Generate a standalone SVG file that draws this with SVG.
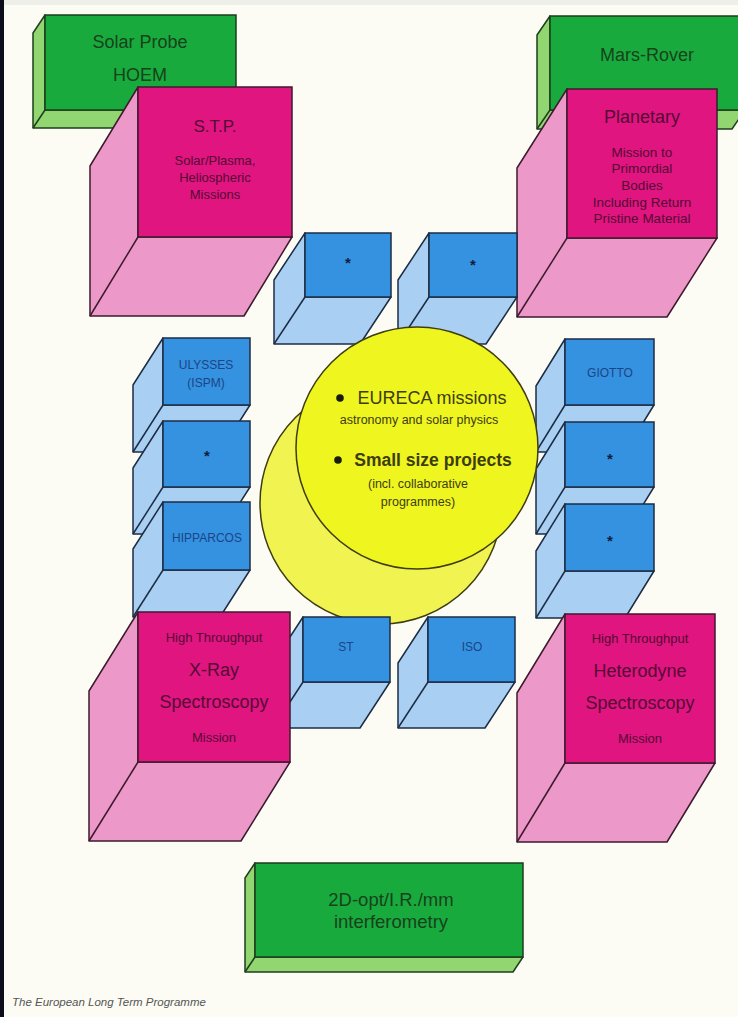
<svg xmlns="http://www.w3.org/2000/svg" width="738" height="1017" viewBox="0 0 738 1017">
<style>
.gs{fill:#92d672;stroke:#1d3d1d;stroke-width:1.5;stroke-linejoin:round}
.gf{fill:#19aa3e;stroke:#1d3d1d;stroke-width:1.5}
.ms{fill:#ec98c8;stroke:#3c1a2c;stroke-width:1.5;stroke-linejoin:round}
.mf{fill:#e0157f;stroke:#3c1a2c;stroke-width:1.5}
.bs{fill:#a9cff2;stroke:#1c2c44;stroke-width:1.5;stroke-linejoin:round}
.bf{fill:#3592e0;stroke:#1c2c44;stroke-width:1.5}
.ln{fill:none}
.t{font-family:"Liberation Sans",Arial,sans-serif;text-anchor:middle}
.gt{fill:#17421b}
.mt{fill:#550a36}
.bt{fill:#1b4586}
.st{fill:#0f1e3c;font-weight:bold}
.yt{fill:#3d3d10}
</style>
<rect x="0" y="0" width="738" height="1017" fill="#fcfcf4"/>
<rect x="0" y="0" width="738" height="5" fill="#efefea"/>
<rect x="0" y="0" width="4" height="1017" fill="#0c0c1a"/>
<g id="connectors"/>
<g id="solar-probe">
<path class="gs" d="M45,15 L33,33 L33,128 L224,128 L236,110 L45,110 Z"/>
<path class="gs ln" d="M45,110 L33,128"/>
<rect class="gf" x="45" y="15" width="191" height="95"/>
<text class="t gt" x="140" y="48" font-size="18">Solar Probe</text>
<text class="t gt" x="140" y="81" font-size="18">HOEM</text>
</g>
<g id="mars-rover">
<path class="gs" d="M550,16 L537,35 L537,129 L732,129 L745,110 L550,110 Z"/>
<path class="gs ln" d="M550,110 L537,129"/>
<rect class="gf" x="550" y="16" width="195" height="94"/>
<text class="t gt" x="647" y="61" font-size="18">Mars-Rover</text>
</g>
<g id="stp">
<path class="ms" d="M138,87 L90,166 L90,316 L244,316 L292,237 L138,237 Z"/>
<path class="ms ln" d="M138,237 L90,316"/>
<rect class="mf" x="138" y="87" width="154" height="150"/>
<text class="t mt" x="215" y="132" font-size="17">S.T.P.</text>
<text class="t mt" x="215" y="164.5" font-size="13">Solar/Plasma,</text>
<text class="t mt" x="215" y="181.5" font-size="13">Heliospheric</text>
<text class="t mt" x="215" y="198.5" font-size="13">Missions</text>
</g>
<g id="planetary">
<path class="ms" d="M567,89 L517,168 L517,317 L667,317 L717,238 L567,238 Z"/>
<path class="ms ln" d="M567,238 L517,317"/>
<rect class="mf" x="567" y="89" width="150" height="149"/>
<text class="t mt" x="642" y="123" font-size="18">Planetary</text>
<text class="t mt" x="642" y="157" font-size="13.5">Mission to</text>
<text class="t mt" x="642" y="173" font-size="13.5">Primordial</text>
<text class="t mt" x="642" y="190" font-size="13.5">Bodies</text>
<text class="t mt" x="642" y="207" font-size="13.5">Including Return</text>
<text class="t mt" x="642" y="223" font-size="13.5">Pristine Material</text>
</g>
<g id="top-box-1">
<path class="bs" d="M305,233 L274,280 L274,344 L360,344 L391,297 L305,297 Z"/>
<path class="bs ln" d="M305,297 L274,344"/>
<rect class="bf" x="305" y="233" width="86" height="64"/>
<text class="t st" x="348" y="268" font-size="15">*</text>
</g>
<g id="top-box-2">
<path class="bs" d="M429,233 L398,280 L398,344 L486,344 L517,297 L429,297 Z"/>
<path class="bs ln" d="M429,297 L398,344"/>
<rect class="bf" x="429" y="233" width="88" height="64"/>
<text class="t st" x="473" y="270" font-size="15">*</text>
</g>
<g id="ulysses">
<path class="bs" d="M163,338 L133,385 L133,452 L220,452 L250,405 L163,405 Z"/>
<path class="bs ln" d="M163,405 L133,452"/>
<rect class="bf" x="163" y="338" width="87" height="67"/>
<text class="t bt" x="206" y="369" font-size="12">ULYSSES</text>
<text class="t bt" x="206" y="387" font-size="12">(ISPM)</text>
</g>
<g id="left-box-2">
<path class="bs" d="M163,421 L133,468 L133,534 L220,534 L250,487 L163,487 Z"/>
<path class="bs ln" d="M163,487 L133,534"/>
<rect class="bf" x="163" y="421" width="87" height="66"/>
<text class="t st" x="207" y="461" font-size="15">*</text>
</g>
<g id="hipparcos">
<path class="bs" d="M163,502 L133,549 L133,617 L220,617 L250,570 L163,570 Z"/>
<path class="bs ln" d="M163,570 L133,617"/>
<rect class="bf" x="163" y="502" width="87" height="68"/>
<text class="t bt" x="207" y="542" font-size="12">HIPPARCOS</text>
</g>
<g id="giotto">
<path class="bs" d="M565,339 L536,386 L536,452 L625,452 L654,405 L565,405 Z"/>
<path class="bs ln" d="M565,405 L536,452"/>
<rect class="bf" x="565" y="339" width="89" height="66"/>
<text class="t bt" x="610" y="377" font-size="12">GIOTTO</text>
</g>
<g id="right-box-2">
<path class="bs" d="M565,422 L536,469 L536,534 L625,534 L654,487 L565,487 Z"/>
<path class="bs ln" d="M565,487 L536,534"/>
<rect class="bf" x="565" y="422" width="89" height="65"/>
<text class="t st" x="610" y="464" font-size="15">*</text>
</g>
<g id="right-box-3">
<path class="bs" d="M565,504 L536,551 L536,618 L625,618 L654,571 L565,571 Z"/>
<path class="bs ln" d="M565,571 L536,618"/>
<rect class="bf" x="565" y="504" width="89" height="67"/>
<text class="t st" x="610" y="546" font-size="15">*</text>
</g>
<g id="eureca">
<circle cx="381" cy="503" r="121" fill="#f0f350" stroke="#3d3d10" stroke-width="1.5"/>
<circle cx="417" cy="448" r="121" fill="#eef51f" stroke="#3d3d10" stroke-width="1.5"/>
<circle cx="340" cy="398" r="3.8" fill="#1a1a08"/>
<text class="t yt" x="432" y="404" font-size="18">EURECA missions</text>
<text class="t yt" x="419" y="424" font-size="12.5">astronomy and solar physics</text>
<circle cx="338" cy="460" r="3.8" fill="#1a1a08"/>
<text class="t yt" x="433" y="466" font-size="17.5" font-weight="bold">Small size projects</text>
<text class="t yt" x="418" y="488" font-size="12.5">(incl. collaborative</text>
<text class="t yt" x="418" y="506" font-size="12.5">programmes)</text>
</g>
<g id="st">
<path class="bs" d="M303,617 L273,663 L273,728 L360,728 L390,682 L303,682 Z"/>
<path class="bs ln" d="M303,682 L273,728"/>
<rect class="bf" x="303" y="617" width="87" height="65"/>
<text class="t bt" x="346" y="651" font-size="12">ST</text>
</g>
<g id="iso">
<path class="bs" d="M428,617 L398,663 L398,728 L485,728 L515,682 L428,682 Z"/>
<path class="bs ln" d="M428,682 L398,728"/>
<rect class="bf" x="428" y="617" width="87" height="65"/>
<text class="t bt" x="472" y="651" font-size="12">ISO</text>
</g>
<g id="x-ray">
<path class="ms" d="M138,612 L89,691 L89,841 L241,841 L290,762 L138,762 Z"/>
<path class="ms ln" d="M138,762 L89,841"/>
<rect class="mf" x="138" y="612" width="152" height="150"/>
<text class="t mt" x="214" y="641.5" font-size="13">High Throughput</text>
<text class="t mt" x="214" y="676" font-size="18">X-Ray</text>
<text class="t mt" x="214" y="708" font-size="18">Spectroscopy</text>
<text class="t mt" x="214" y="741.5" font-size="13">Mission</text>
</g>
<g id="heterodyne">
<path class="ms" d="M565,614 L517,693 L517,842 L667,842 L715,763 L565,763 Z"/>
<path class="ms ln" d="M565,763 L517,842"/>
<rect class="mf" x="565" y="614" width="150" height="149"/>
<text class="t mt" x="640" y="642.5" font-size="13">High Throughput</text>
<text class="t mt" x="640" y="677" font-size="18">Heterodyne</text>
<text class="t mt" x="640" y="709" font-size="18">Spectroscopy</text>
<text class="t mt" x="640" y="742.5" font-size="13">Mission</text>
</g>
<g id="interferometry">
<path class="gs" d="M255,863 L245,878 L245,972 L513,972 L523,957 L255,957 Z"/>
<path class="gs ln" d="M255,957 L245,972"/>
<rect class="gf" x="255" y="863" width="268" height="94"/>
<text class="t gt" x="391" y="906" font-size="18.5">2D-opt/I.R./mm</text>
<text class="t gt" x="391" y="928" font-size="18.5">interferometry</text>
</g>
<text x="12" y="1006" font-family="'Liberation Sans',Arial,sans-serif" font-style="italic" font-size="11.5" fill="#555">The European Long Term Programme</text>
</svg>
